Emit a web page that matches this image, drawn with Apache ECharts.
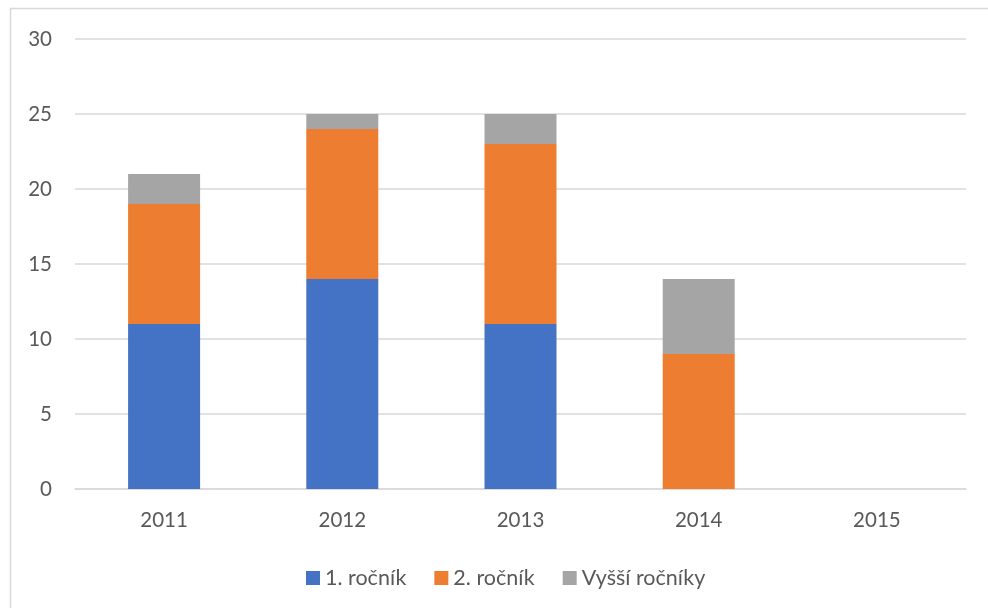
<!DOCTYPE html>
<html><head><meta charset="utf-8">
<script src="https://cdn.jsdelivr.net/npm/echarts@6/dist/echarts.min.js"></script>
<style>html,body{margin:0;padding:0;background:#fff}#c{width:988px;height:608px}</style>
</head><body><div id="c"></div>
<script>
const categories = ['2011','2012','2013','2014','2015'];
const rocnik1 = [11, 14, 11, 0, 0];
const rocnik2 = [8, 10, 12, 9, 0];
const vyssi = [2, 1, 2, 5, 0];
const yTicks = [0, 5, 10, 15, 20, 25, 30];

const font = 'Lato, "Open Sans", sans-serif';
const chart = echarts.init(document.getElementById('c'), null, {renderer:'canvas'});
function s(name, data, color){
  return {name, type:'bar', stack:'a', data, barWidth:72,
    itemStyle:{color}, emphasis:{disabled:true}};
}
chart.setOption({
  animation:false,
  textStyle:{fontFamily:font},
  graphic:[{type:'rect', shape:{x:10.5,y:8.5,width:1000,height:700},
    style:{fill:'none', stroke:'#d9d9d9', lineWidth:1.5}, silent:true, z:-1}],
  grid:{left:75, right:22, top:39, bottom:119, containLabel:false},
  legend:{top:562, left:301, itemWidth:14, itemHeight:14, itemGap:28,
    icon:'rect', textStyle:{color:'#595959', fontSize:21.5, fontFamily:font},
    data:['1. ročník','2. ročník','Vyšší ročníky']},
  xAxis:{type:'category', data:categories,
    axisLine:{lineStyle:{color:'#d9d9d9', width:1.5}}, axisTick:{show:false},
    axisLabel:{color:'#595959', fontSize:20.5, margin:21, fontFamily:font}},
  yAxis:{type:'value', min:yTicks[0], max:yTicks[yTicks.length-1], interval:5,
    axisLine:{show:false}, axisTick:{show:false},
    splitLine:{lineStyle:{color:'#d9d9d9', width:1.5}},
    axisLabel:{color:'#595959', fontSize:20.5, margin:23, fontFamily:font}},
  series:[s('1. ročník', rocnik1, '#4472C4'), s('2. ročník', rocnik2, '#ED7D31'), s('Vyšší ročníky', vyssi, '#A5A5A5')]
});
</script></body></html>
